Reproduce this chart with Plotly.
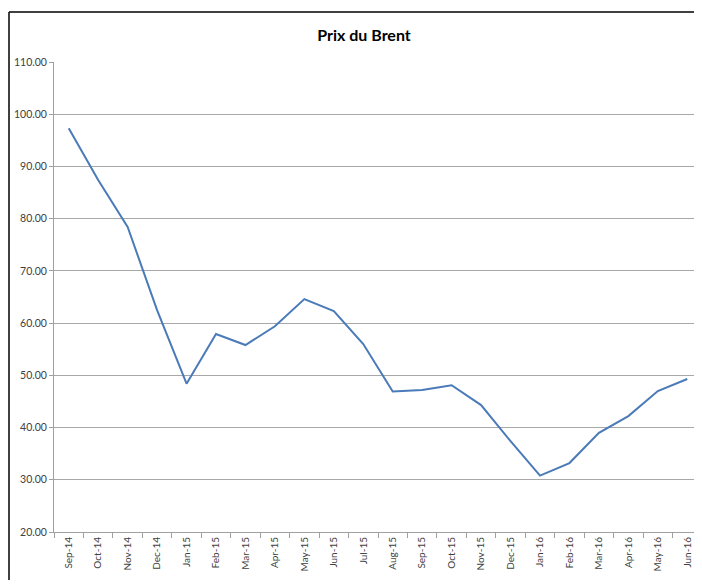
import plotly.graph_objects as go

# ── Data ──
MONTHS = ["Sep-14", "Oct-14", "Nov-14", "Dec-14", "Jan-15", "Feb-15", "Mar-15", "Apr-15",
          "May-15", "Jun-15", "Jul-15", "Aug-15", "Sep-15", "Oct-15", "Nov-15", "Dec-15",
          "Jan-16", "Feb-16", "Mar-16", "Apr-16", "May-16", "Jun-16"]
BRENT = [97.3, 87.4, 78.4, 62.5, 48.4, 57.9, 55.8, 59.4, 64.6, 62.3, 56.0, 46.9,
         47.2, 48.1, 44.3, 37.4, 30.8, 33.2, 39.0, 42.2, 47.0, 49.3]

# page body adds ~8px margin, so the figure is a bit smaller than the window
W, H = 694, 572
L, R, T, B = 46, 0, 54, 48

fig = go.Figure(go.Scatter(
    x=MONTHS, y=BRENT, mode="lines",
    line=dict(color="#4a7ab8", width=2),
))

# paper coords for the outer chart frame (left + top edges only)
pw, ph = W - L - R, H - T - B
fx0 = (1 - L) / pw
fy1 = (H - B - 4) / ph

fig.update_layout(
    width=W, height=H,
    margin=dict(l=L, r=R, t=T, b=B),
    paper_bgcolor="white", plot_bgcolor="white",
    font=dict(family="Lato, Open Sans, sans-serif", color="#404040", size=10),
    title=dict(text="<b>Prix du Brent</b>", x=(356 - L) / pw, xref="paper", xanchor="center",
               y=1 - 27 / H, yanchor="middle",
               font=dict(family="Lato, Open Sans, sans-serif", size=16, color="#000000")),
    showlegend=False,
    xaxis=dict(type="category", range=[-0.5, len(MONTHS) - 0.5],
               tickson="boundaries", ticks="outside", ticklen=5,
               tickcolor="#a0a0a0", showline=True, linecolor="#a0a0a0", linewidth=1,
               showgrid=False, tickangle=-90, automargin=False,
               tickfont=dict(size=10, color="#404040")),
    yaxis=dict(range=[20, 110], dtick=10, tickformat=".2f", showgrid=True,
               gridcolor="#a8a8a8", gridwidth=1, showline=True, linecolor="#a0a0a0",
               ticks="outside", ticklen=4, tickcolor="#a0a0a0", zeroline=False,
               tickfont=dict(size=10.5, color="#404040")),
    shapes=[
        dict(type="line", xref="paper", yref="paper", x0=fx0, x1=fx0, y0=-B / ph, y1=fy1,
             line=dict(color="#000000", width=1.5), layer="below"),
        dict(type="line", xref="paper", yref="paper", x0=fx0, x1=1, y0=fy1, y1=fy1,
             line=dict(color="#000000", width=1.5), layer="below"),
    ],
)

fig.write_html("out.html")
